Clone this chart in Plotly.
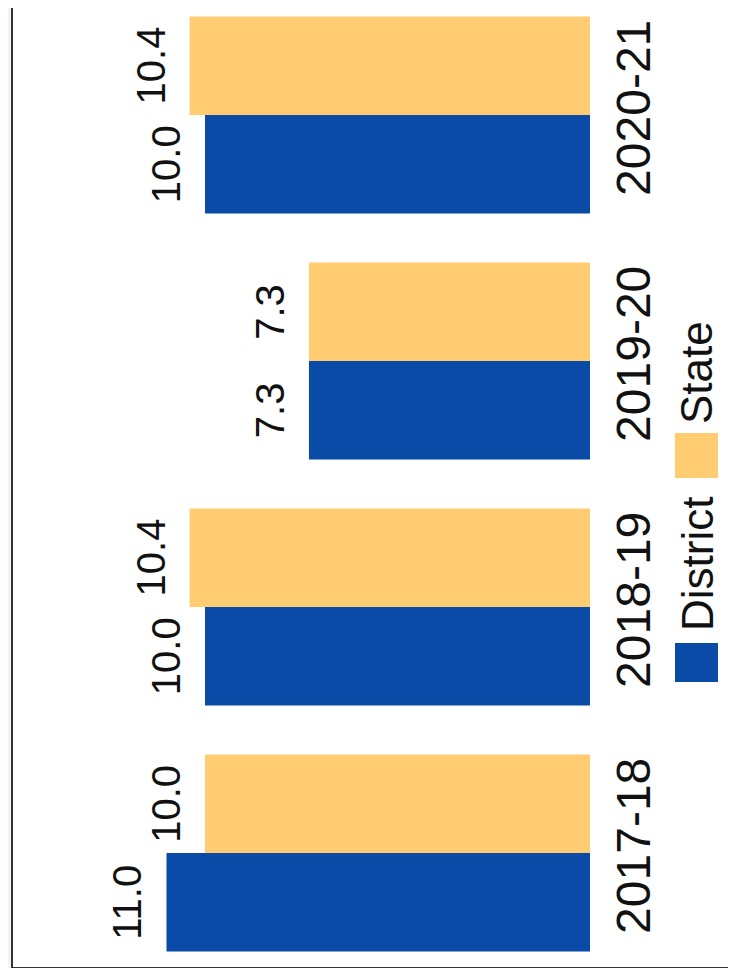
import plotly.graph_objects as go

categories = ["2017-18", "2018-19", "2019-20", "2020-21"]
district = [11.0, 10.0, 7.3, 10.0]
state = [10.0, 10.4, 7.3, 10.4]
series_names = ["District", "State"]
colors = ["#0B4BA8", "#FFCC72"]

# page body has an 8px margin: figure pixel = reference pixel - 8
OFF = 8
W, H = 720, 960
ML = 12 - OFF
MR = W - (590 - OFF)
PW = W - ML - MR
CAT_PX = 246.0
BARGAP = 0.2

def px_x(px):
    return (px - OFF - ML) / PW

def px_y(py):
    return 1 - (py - OFF) / H

FONT = "Liberation Sans, Arial, sans-serif"

fig = go.Figure()
for name, vals, col in zip(series_names, [district, state], colors):
    fig.add_trace(go.Bar(
        y=categories, x=vals, orientation="h", name=name,
        marker=dict(color=col, line=dict(width=0)),
        showlegend=False,
    ))

annotations = []
half = CAT_PX * (1 - BARGAP) / 4
for vals, ys in [(district, -half), (state, half)]:
    for c, v in zip(categories, vals):
        annotations.append(dict(
            x=v, y=c, xref="x", yref="y", text=f"{v:.1f}", showarrow=False,
            textangle=-90, xanchor="right", yanchor="middle",
            xshift=-15, yshift=ys,
            font=dict(family=FONT, size=40, color="#111")))

shapes = [
    dict(type="rect", xref="paper", yref="paper", x0=px_x(12), x1=px_x(760),
         y0=px_y(968), y1=px_y(-20), fillcolor="white",
         line=dict(color="#333", width=2), layer="below"),
]
leg = [("District", colors[0], 643, 682, 564), ("State", colors[1], 433, 478, 373)]
for name, col, sy0, sy1, ty in leg:
    shapes.append(dict(type="rect", xref="paper", yref="paper",
                       x0=px_x(675), x1=px_x(718), y0=px_y(sy1), y1=px_y(sy0),
                       fillcolor=col, line=dict(width=0)))
    annotations.append(dict(text=name, xref="paper", yref="paper",
                            x=px_x(697), y=px_y(ty), showarrow=False,
                            textangle=-90, xanchor="center", yanchor="middle",
                            font=dict(family=FONT, size=44, color="#111")))

y_bottom = -(H - (853 - OFF)) / CAT_PX
y_top = 3 + (115 - OFF) / CAT_PX

fig.update_layout(
    width=W, height=H,
    margin=dict(l=ML, r=MR, t=0, b=0, pad=0),
    paper_bgcolor="#eef4fa", plot_bgcolor="rgba(0,0,0,0)",
    barmode="group", bargap=BARGAP, bargroupgap=0,
    xaxis=dict(range=[PW / 38.5, 0], visible=False, fixedrange=True),
    yaxis=dict(type="category", categoryorder="array", categoryarray=categories,
               range=[y_bottom, y_top], side="right", tickangle=-90,
               showgrid=False, showline=False, zeroline=False, ticks="",
               tickfont=dict(family=FONT, size=48, color="#111"),
               ticklabelstandoff=11),
    shapes=shapes, annotations=annotations,
    showlegend=False,
)
fig.write_html("out.html")
